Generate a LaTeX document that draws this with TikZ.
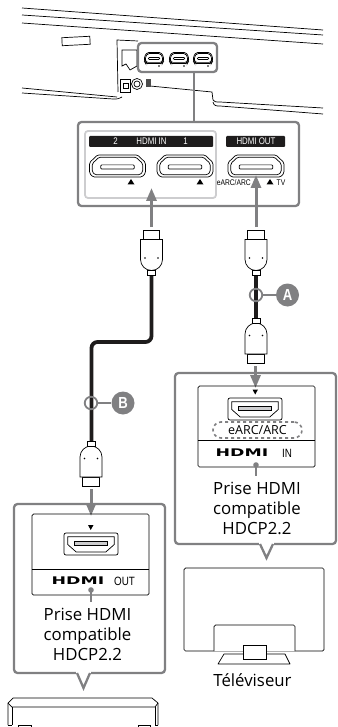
\documentclass[tikz,border=0pt]{standalone}
\usepackage{fontspec}
\setmainfont{Open Sans}
\newfontfamily\narrowfont[FakeStretch=0.82]{Liberation Sans}
\newfontfamily\logofont[FakeStretch=1.65]{DejaVu Sans}
\usepackage{xcolor}
\usetikzlibrary{arrows.meta,calc,positioning}
\definecolor{leadgray}{RGB}{128,128,130}
\definecolor{palegray}{RGB}{205,205,207}
\definecolor{cableblack}{RGB}{30,28,28}
\tikzset{
  leadline/.style={draw=leadgray,line width=2.3pt},
  callout/.style={draw=leadgray,line width=2.3pt,rounded corners=3.5pt},
  outline/.style={draw=black,line width=0.7pt},
  panel/.style={draw=black,line width=0.7pt,rounded corners=1.5pt},
  cable/.style={draw=cableblack,line width=3.8pt,rounded corners=6pt},
  feedarrow/.style={draw=leadgray,line width=3pt,-{Triangle[length=13pt,width=10pt]}},
  ringmark/.style={circle,draw=leadgray,line width=1.8pt,minimum size=12.5pt,inner sep=0pt},
  badge/.style={circle,fill=leadgray,text=white,font=\narrowfont\bfseries\fontsize{16}{16}\selectfont,minimum size=23pt,inner sep=0pt},
  bodytext/.style={font=\fontsize{16.8}{20}\selectfont,align=center,inner sep=0pt},
  barlabel/.style={text=white,font=\narrowfont\fontsize{9.6}{10}\selectfont,inner sep=0pt},
  smalllabel/.style={font=\narrowfont\fontsize{8.2}{9}\selectfont,inner sep=0pt},
  jacklabel/.style={font=\narrowfont\fontsize{12}{12}\selectfont,inner sep=0pt},
  logolabel/.style={font=\logofont\bfseries\fontsize{10.5}{10.5}\selectfont,inner sep=0pt},
}
% port with bevels on top: x, y, half width, half height
\newcommand{\portupper}[4]{%
  \begin{scope}[shift={(#1,#2)},x=#3pt,y=-#4pt]
    \draw[outline,rounded corners=1.5pt] (-0.72,-1) -- (0.72,-1) -- (1,-0.3) -- (1,0.65) -- (0.88,1) -- (-0.88,1) -- (-1,0.65) -- (-1,-0.3) -- cycle;
    \draw[outline,rounded corners=1.5pt] (-0.66,-0.8) -- (0.66,-0.8) -- (0.9,-0.22) -- (0.9,0.55) -- (0.8,0.8) -- (-0.8,0.8) -- (-0.9,0.55) -- (-0.9,-0.22) -- cycle;
    \draw[outline,rounded corners=1pt] (-0.6,-0.1) rectangle (0.6,0.28);
  \end{scope}%
}
% port with bevels below: x, y, half width, half height
\newcommand{\portlower}[4]{%
  \begin{scope}[shift={(#1,#2)},x=#3pt,y=-#4pt]
    \draw[outline,rounded corners=2pt] (-1,-1) rectangle (1,1);
    \draw[outline] (-0.86,-0.66) -- (0.86,-0.66) -- (0.86,0.05) -- (0.55,0.72) -- (-0.55,0.72) -- (-0.86,0.05) -- cycle;
    \draw[outline,fill=palegray] (-0.62,-0.2) rectangle (0.62,0.12);
  \end{scope}%
}
% plug: x, y of the head end, direction (1 = head on top, -1 = head below)
\newcommand{\hdmiplug}[3]{%
  \begin{scope}[shift={(#1,#2)},y=#3*-1pt]
    \draw[outline,fill=white] (-8.3,0) rectangle (8.3,9);
    \draw[outline,fill=white] (-11,9) -- (11,9) -- (11,29) .. controls (11,35) and (6,40) .. (0,40) .. controls (-6,40) and (-11,35) .. (-11,29) -- cycle;
    \draw[outline,fill=white] (-4,40) rectangle (4,45);
    \fill (-6.5,27.5) circle (0.9pt) (6.5,27.5) circle (0.9pt);
  \end{scope}%
}
\begin{document}
\begin{tikzpicture}[x=1pt,y=-1pt]
  \useasboundingbox (0,0) rectangle (337,727);
  % soundbar
  \draw[outline] (22,8) -- (323,30);
  \draw[outline] (22,15) -- (323,35);
  \draw[outline] (22,23) -- (323,44);
  \draw[outline] (22,88) -- (117,97);
  \draw[outline] (22,93) -- (113,99) .. controls (118,99) and (118,99) .. (122,97);
  \draw[outline] (150,86) -- (212,92) -- (213,100) .. controls (214,102) and (216,102) .. (220,102) -- (323,108);
  \draw[outline] (213,102) .. controls (214,106) and (216,106) .. (220,106) -- (323,114);
  \draw[outline,rotate around={3:(76,41)}] (62,37) rectangle (90,45);
  \draw[outline] (118,92) -- (117,40) -- (138,41);
  \draw[outline] (122,50) -- (137,50) -- (137,66) -- (130,70) -- (126,64) -- (122,66) -- cycle;
  \draw[outline] (120,79) rectangle (130,92);
  \draw[outline] (123,83) rectangle (128,88);
  \draw[outline] (137,84) circle (5.5pt) (137,84) circle (3pt);
  \fill[black!70] (146,79) rectangle (151,87);
  % zoom frame on the rear
  \draw[callout,fill=white] (138,43) rectangle (217,72);
  \foreach \px in {154,179,203} {
    \portupper{\px}{58}{9.5}{5.5}
    \fill (\px+5,66) circle (0.8pt);
  }
  \draw[leadline] (194,72) -- (194,122);
  % terminal panel
  \draw[callout] (78,122) rectangle (299,206);
  \draw[draw=palegray,line width=1.8pt,rounded corners=3pt] (85,131) rectangle (216,198);
  \fill[cableblack,rounded corners=1pt] (89,136) rectangle (213,147);
  \fill[cableblack,rounded corners=1pt] (226,136) rectangle (285,147);
  \node[barlabel] (two) at (115.5,141.5) {2};
  \node[barlabel] (hdmiin) at (151.5,141.5) {HDMI IN};
  \node[barlabel] (one) at (185.5,141.5) {1};
  \node[barlabel] (hdmiout) at (256,141.5) {HDMI OUT};
  \portupper{117.5}{166}{28}{11}
  \portupper{185}{166}{28}{11}
  \portupper{256}{166}{28}{11}
  \foreach \px in {131,200,270}
    \fill (\px-3.5,184.5) -- (\px+3.5,184.5) -- (\px,179) -- cycle;
  \node[smalllabel,anchor=east] (earcsmall) at (251,183) {eARC/ARC};
  \node[smalllabel] (tvsmall) at (281,183) {TV};
  % cables
  \coordinate (leftcabletop) at (151.5,275);
  \coordinate (leftcablebend) at (151.5,342);
  \coordinate (leftcablelow) at (91.5,342);
  \coordinate (leftcableend) at (91.5,441);
  \coordinate (rightcabletop) at (256,275);
  \coordinate (rightcableend) at (256,318);
  \draw[cable] (leftcabletop) -- (leftcablebend) -- (leftcablelow) -- (leftcableend);
  \draw[cable] (rightcabletop) -- (rightcableend);
  \coordinate (leftplugtop) at (151.5,227);
  \coordinate (leftporttip) at (151.5,188);
  \coordinate (rightplugtop) at (256,227);
  \coordinate (rightporttip) at (256,175);
  \draw[feedarrow] (leftplugtop) -- (leftporttip);
  \draw[feedarrow] (rightplugtop) -- (rightporttip);
  \hdmiplug{151.5}{230.5}{1}
  \hdmiplug{256}{230.5}{1}
  \hdmiplug{256}{363}{-1}
  \hdmiplug{91}{486}{-1}
  % cable marks
  \node[ringmark] (ringa) at (256,295) {};
  \node[badge] (badgea) at (287.5,295) {A};
  \draw[leadline] (ringa) -- (badgea);
  \node[ringmark] (ringb) at (91,403) {};
  \node[badge] (badgeb) at (123,403) {B};
  \draw[leadline] (ringb) -- (badgeb);
  % television callout
  \draw[callout,fill=white] (175,373) rectangle (336,544);
  \fill[white] (259,542) rectangle (274,546);
  \draw[leadline,line join=miter] (260,544) -- (266.5,558) -- (273,544);
  \coordinate (tvplugend) at (255.5,366);
  \coordinate (tvjacktip) at (255.5,388);
  \draw[feedarrow] (tvplugend) -- (tvjacktip);
  \draw[panel] (198,386) rectangle (315,467);
  \draw[outline] (198,440) -- (315,440);
  \fill (252.5,389.5) -- (258,389.5) -- (255.2,394.5) -- cycle;
  \portlower{255}{409}{27}{11}
  \node[draw=leadgray,dashed,line width=1.6pt,rounded corners=8pt,minimum width=89pt,minimum height=16pt,inner sep=0pt,font=\fontsize{12.5}{12.5}\selectfont] (earclabel) at (257.5,430) {eARC/ARC};
  \node[logolabel] (tvlogo) at (242,453) {HDMI};
  \node[jacklabel] (injack) at (287,453) {IN};
  \coordinate (tvdot) at (256,465);
  \coordinate (tvdotend) at (256,476);
  \draw[leadline] (tvdot) -- (tvdotend);
  \fill[leadgray] (tvdot) circle (2.8pt);
  \node[bodytext] (tvport) at (257,508) {Prise HDMI\\compatible\\HDCP2.2};
  % player callout
  \draw[callout,fill=white] (14,504) rectangle (165,673);
  \fill[white] (76,671) rectangle (91,675);
  \draw[leadline,line join=miter] (77,673) -- (83.5,688) -- (90,673);
  \coordinate (playerplugend) at (91,489);
  \coordinate (playerjacktip) at (91,516);
  \draw[feedarrow] (playerplugend) -- (playerjacktip);
  \draw[panel] (32,514) rectangle (149,595);
  \draw[outline] (32,569) -- (149,569);
  \fill (88,525) -- (93.5,525) -- (90.7,530) -- cycle;
  \portlower{91}{544}{27}{11}
  \node[logolabel] (playerlogo) at (78,581) {HDMI};
  \node[jacklabel] (outjack) at (124.5,581) {OUT};
  \coordinate (playerdot) at (91,590);
  \coordinate (playerdotend) at (91,602);
  \draw[leadline] (playerdot) -- (playerdotend);
  \fill[leadgray] (playerdot) circle (2.8pt);
  \node[bodytext] (playerport) at (87.5,634) {Prise HDMI\\compatible\\HDCP2.2};
  % television
  \draw[panel] (184,568) rectangle (324,651);
  \draw[panel,fill=white] (214,651) -- (214,625) -- (295,625) -- (295,651);
  \draw[outline,line join=round] (243,654) -- (224,654) -- (218,664) -- (290,664) -- (285,654) -- (266,654);
  \draw[outline,fill=white] (243,645) rectangle (266,659);
  \node[bodytext] (tvlabel) at (252.5,680) {Téléviseur};
  % player
  \draw[outline,line join=round] (8,725) -- (8,703) -- (13,698) -- (152,698) -- (158,703) -- (158,725);
  \draw[outline] (8,703) -- (12,707) -- (155,707) -- (158,703);
  \draw[outline] (12,707) -- (12,725) (155,707) -- (155,725);
  \draw[outline] (8,725.5) -- (12,725.5) (155,725.5) -- (158,725.5);
  \foreach \px/\qx in {18/31,138/150}
    \draw[outline] (\px,727) -- (\px,725.5) -- (\qx,725.5) -- (\qx,727);
\end{tikzpicture}
\end{document}
